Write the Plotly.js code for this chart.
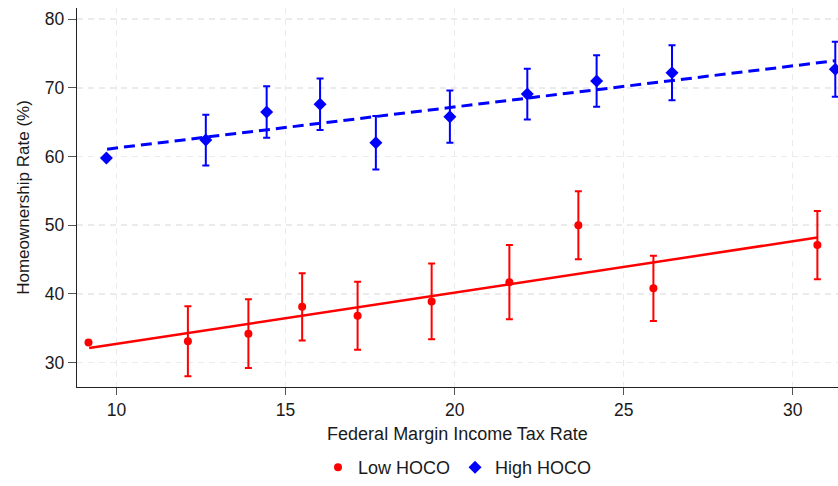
<!DOCTYPE html>
<html>
<head>
<meta charset="utf-8">
<script src="https://cdn.plot.ly/plotly-3.0.1.min.js"></script>
<style>
  html, body { margin: 0; padding: 0; background: #fff; }
  #plot { width: 838px; height: 486px; }
</style>
</head>
<body>
<div id="plot"></div>
<script>
// binned scatter
const lowX = [9.17, 12.11, 13.90, 15.49, 17.13, 19.32, 21.62, 23.66, 25.88, 30.73];
const lowY = [32.9, 33.1, 34.2, 38.1, 36.8, 38.9, 41.7, 50.0, 40.8, 47.1];
const lowErr = [null, 5.1, 5.0, 4.9, 4.95, 5.5, 5.4, 4.95, 4.75, 4.96];

const highX = [9.70, 12.64, 14.44, 16.02, 17.67, 19.86, 22.15, 24.20, 26.43, 31.26];
const highY = [59.8, 62.4, 66.5, 67.6, 62.0, 65.8, 69.1, 71.0, 72.2, 72.7];
const highErr = [null, 3.7, 3.75, 3.75, 3.9, 3.8, 3.7, 3.75, 4.0, 4.0];

// fitted lines (end points)
const lowFitX = [9.19, 30.73];
const lowFitY = [32.1, 48.2];
const highFitX = [9.72, 31.26];
const highFitY = [61.07, 73.95];

const seriesNames = ["Low HOCO", "High HOCO"];
const xTicks = [10, 15, 20, 25, 30];
const yTicks = [30, 40, 50, 60, 70, 80];

const red = "#ff0000";
const blue = "#0000ff";
const font = "Liberation Sans, Arial, Helvetica, sans-serif";

const traces = [
  {
    x: lowFitX, y: lowFitY, mode: "lines", type: "scatter",
    line: { color: red, width: 2.5 },
    showlegend: false, hoverinfo: "skip"
  },
  {
    x: highFitX, y: highFitY, mode: "lines", type: "scatter",
    line: { color: blue, width: 3, dash: "11px,6px" },
    showlegend: false, hoverinfo: "skip"
  },
  {
    x: lowX, y: lowY, name: seriesNames[0], mode: "markers", type: "scatter",
    marker: { color: red, size: 8, symbol: "circle" },
    error_y: { type: "data", array: lowErr, visible: true, color: red, thickness: 2, width: 3.5 }
  },
  {
    x: highX, y: highY, name: seriesNames[1], mode: "markers", type: "scatter",
    marker: { color: blue, size: 10, symbol: "diamond" },
    error_y: { type: "data", array: highErr, visible: true, color: blue, thickness: 2, width: 3.5 }
  }
];

const gridStyle = { showgrid: true, gridcolor: "#ebebeb", gridwidth: 1.5, griddash: "6px,5px" };

const layout = {
  width: 838, height: 486,
  margin: { l: 77, r: 0, t: 8, b: 96 },
  paper_bgcolor: "#fff", plot_bgcolor: "#fff",
  font: { family: font, size: 17, color: "#1a1a1a" },
  xaxis: Object.assign({
    range: [8.83, 31.34], tickvals: xTicks, ticks: "outside", ticklen: 7, tickcolor: "#555",
    showline: true, linecolor: "#222", linewidth: 1.2, zeroline: false,
    tickfont: { size: 17.5 },
    title: { text: "Federal Margin Income Tax Rate", font: { size: 18 }, standoff: 8 }
  }, gridStyle),
  yaxis: Object.assign({
    range: [26.43, 81.63], tickvals: yTicks, ticks: "outside", ticklen: 8, tickcolor: "#555",
    showline: true, linecolor: "#222", linewidth: 1.2, zeroline: false,
    tickfont: { size: 17.5 },
    title: { text: "Homeownership Rate (%)", font: { size: 17 }, standoff: 10 }
  }, gridStyle),
  legend: {
    orientation: "h", x: 0.5, xanchor: "center", y: -0.214, yanchor: "middle",
    font: { size: 18 }, itemwidth: 20
  },
  showlegend: true
};

Plotly.newPlot("plot", traces, layout, { displayModeBar: false, staticPlot: true });
</script>
</body>
</html>
